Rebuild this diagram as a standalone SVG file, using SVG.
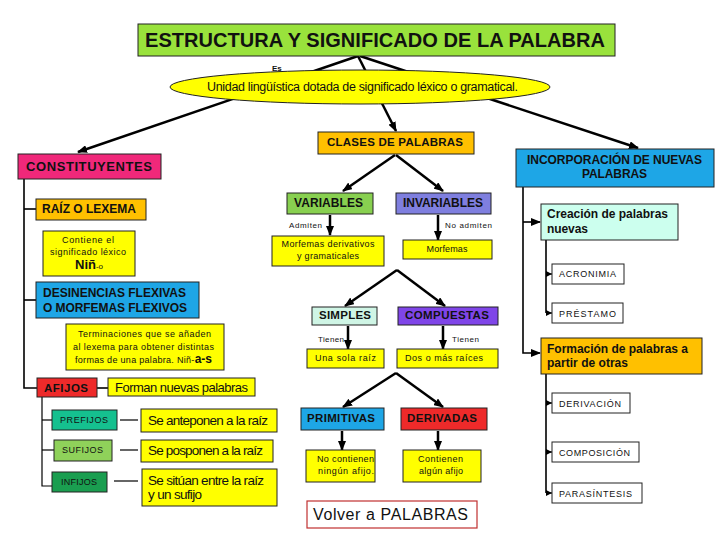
<svg xmlns="http://www.w3.org/2000/svg" width="720" height="540" viewBox="0 0 720 540">
<defs>
<marker id="ah" markerUnits="userSpaceOnUse" markerWidth="10" markerHeight="8" refX="9" refY="4" orient="auto"><path d="M0,0 L10,4 L0,8 z" fill="#000"/></marker>
<marker id="ahs" markerUnits="userSpaceOnUse" markerWidth="6" markerHeight="6" refX="6" refY="3" orient="auto"><path d="M0,0 L6,3 L0,6 z" fill="#000"/></marker>
<style>
text{font-family:"Liberation Sans",Arial,sans-serif;fill:#111}
.b{font-weight:bold}
.m{text-anchor:middle}
.box{stroke:#222;stroke-width:1}
.ln{stroke:#000;stroke-width:2.5;fill:none}
.tl{stroke:#000;stroke-width:1.6;fill:none}
.th{stroke:#000;stroke-width:1.2;fill:none}
.y{fill:#FFFF00}
.o{fill:#FFC000}
.bl{fill:#1EA6E6}
.rd{fill:#EE2A2A}
.w{fill:#FFFFFF}
.s9{font-size:9px}
.s8{font-size:8px}
</style>
</defs>
<rect x="0" y="0" width="720" height="540" fill="#FFFFFF"/>

<g id="connectors">
<line class="ln" x1="358" y1="56" x2="78" y2="152" marker-end="url(#ah)"/>
<line class="ln" x1="358" y1="56" x2="396" y2="131" marker-end="url(#ah)"/>
<line class="ln" x1="360" y1="56" x2="638" y2="148" marker-end="url(#ah)"/>
<line class="ln" x1="395" y1="155" x2="343" y2="191" marker-end="url(#ah)"/>
<line class="ln" x1="396" y1="155" x2="443" y2="191" marker-end="url(#ah)"/>
<line class="ln" x1="330" y1="215" x2="330" y2="235" marker-end="url(#ah)"/>
<line class="ln" x1="438" y1="215" x2="438" y2="240" marker-end="url(#ah)"/>
<line class="ln" x1="397" y1="270" x2="345" y2="306" marker-end="url(#ah)"/>
<line class="ln" x1="397" y1="270" x2="445" y2="306" marker-end="url(#ah)"/>
<line class="ln" x1="348" y1="326" x2="348" y2="349" marker-end="url(#ah)"/>
<line class="ln" x1="443" y1="326" x2="443" y2="349" marker-end="url(#ah)"/>
<line class="ln" x1="396" y1="373" x2="343" y2="407" marker-end="url(#ah)"/>
<line class="ln" x1="396" y1="373" x2="443" y2="407" marker-end="url(#ah)"/>
<line class="ln" x1="342" y1="431" x2="342" y2="450" marker-end="url(#ah)"/>
<line class="ln" x1="438" y1="431" x2="438" y2="450" marker-end="url(#ah)"/>
<polyline class="tl" points="24,179 24,388 37,388"/>
<line class="tl" x1="24" y1="209" x2="36" y2="209"/>
<line class="tl" x1="24" y1="300" x2="36" y2="300"/>
<line class="tl" x1="97" y1="388" x2="108" y2="388"/>
<polyline class="th" points="42,397 42,486 52,486"/>
<line class="th" x1="42" y1="420" x2="52" y2="420"/>
<line class="th" x1="42" y1="450" x2="54" y2="450"/>
<line class="th" x1="120" y1="420" x2="138" y2="420"/>
<line class="th" x1="120" y1="450" x2="138" y2="450"/>
<line class="th" x1="114" y1="481" x2="138" y2="481"/>
<polyline class="tl" points="523,187 523,353 540,353" marker-end="url(#ah)"/>
<line class="tl" x1="523" y1="222" x2="540" y2="222" marker-end="url(#ah)"/>
<line class="tl" x1="546" y1="240" x2="546" y2="313"/>
<line class="th" x1="546" y1="274" x2="552" y2="274" marker-end="url(#ahs)"/>
<line class="th" x1="546" y1="313" x2="552" y2="313" marker-end="url(#ahs)"/>
<line class="tl" x1="546" y1="374" x2="546" y2="493"/>
<line class="th" x1="546" y1="403" x2="552" y2="403" marker-end="url(#ahs)"/>
<line class="th" x1="546" y1="452" x2="552" y2="452" marker-end="url(#ahs)"/>
<line class="th" x1="546" y1="493" x2="552" y2="493" marker-end="url(#ahs)"/>
</g>

<g id="title">
<rect class="box" x="138" y="24" width="477" height="32" fill="#99E23C"/>
<text class="b m" x="375" y="47" font-size="20" textLength="460">ESTRUCTURA Y SIGNIFICADO DE LA PALABRA</text>
</g>
<g id="es-label"><text x="272" y="71" font-size="8" class="b">Es</text></g>
<g id="definicion">
<ellipse class="box y" cx="360" cy="87" rx="190" ry="17"/>
<text class="m" x="362.5" y="91" font-size="12.5" fill="#222" textLength="311">Unidad lingüística dotada de significado léxico o gramatical.</text>
</g>

<g id="clases">
<rect class="box o" x="318" y="132" width="156" height="22"/>
<text class="b m" x="395" y="146" font-size="11.5" textLength="136">CLASES DE PALABRAS</text>
</g>
<g id="variables">
<rect class="box" x="287" y="193" width="86" height="21" fill="#88D050"/>
<text class="b m" x="328.5" y="207" font-size="12" textLength="69">VARIABLES</text>
</g>
<g id="invariables">
<rect class="box" x="396" y="193" width="95" height="21" fill="#7F7FDF"/>
<text class="b m" x="443" y="207" font-size="12" textLength="80">INVARIABLES</text>
</g>
<g id="admiten"><text class="s8" x="289" y="228" textLength="33">Admiten</text></g>
<g id="no-admiten"><text class="s8" x="445" y="228" textLength="47">No admiten</text></g>
<g id="morfemas-derivativos">
<rect class="box y" x="272" y="236" width="112" height="30"/>
<text class="s9 m" x="328" y="247" textLength="93">Morfemas derivativos</text>
<text class="s9 m" x="328" y="259" textLength="62">y gramaticales</text>
</g>
<g id="morfemas">
<rect class="box y" x="403" y="240" width="89" height="19"/>
<text class="s9 m" x="447" y="252" textLength="41">Morfemas</text>
</g>

<g id="simples">
<rect class="box" x="312" y="307" width="65" height="18" fill="#CFF5E5"/>
<text class="b m" x="345" y="319" font-size="11.5" textLength="52">SIMPLES</text>
</g>
<g id="compuestas">
<rect class="box" x="398" y="307" width="100" height="18" fill="#7F45E8"/>
<text class="b m" x="447" y="319" font-size="11.5" textLength="84">COMPUESTAS</text>
</g>
<g id="tienen-1"><text class="s8" x="318" y="342" textLength="26">Tienen</text></g>
<g id="tienen-2"><text class="s8" x="452" y="342" textLength="27">Tienen</text></g>
<g id="una-sola-raiz">
<rect class="box y" x="307" y="349" width="77" height="19"/>
<text class="s9 m" x="345.5" y="361" textLength="61">Una sola raíz</text>
</g>
<g id="dos-o-mas-raices">
<rect class="box y" x="397" y="349" width="101" height="19"/>
<text class="s9 m" x="444" y="361" textLength="78">Dos o más raíces</text>
</g>

<g id="primitivas">
<rect class="box bl" x="301" y="408" width="83" height="22"/>
<text class="b m" x="341" y="422" font-size="11.5" textLength="68">PRIMITIVAS</text>
</g>
<g id="derivadas">
<rect class="box rd" x="401" y="408" width="86" height="22"/>
<text class="b m" x="442" y="422" font-size="11.5" textLength="70">DERIVADAS</text>
</g>
<g id="no-contienen">
<rect class="box y" x="306" y="450" width="69" height="32"/>
<text class="s9 m" x="345.5" y="462" textLength="57">No contienen</text>
<text class="s9 m" x="346" y="474" textLength="56">ningún afijo.</text>
</g>
<g id="contienen">
<rect class="box y" x="403" y="450" width="78" height="32"/>
<text class="s9 m" x="440.5" y="462" textLength="45">Contienen</text>
<text class="s9 m" x="441" y="474" textLength="44">algún afijo</text>
</g>
<g id="volver">
<rect x="307" y="501" width="170" height="27" fill="#FFFFFF" stroke="#C03030" stroke-width="1.2"/>
<text class="m" x="390.5" y="520" font-size="16" textLength="155">Volver a PALABRAS</text>
</g>

<g id="constituyentes">
<rect class="box" x="18" y="154" width="143" height="25" fill="#F0287A"/>
<text class="b" x="26" y="171" font-size="13" textLength="126">CONSTITUYENTES</text>
</g>
<g id="raiz">
<rect class="box o" x="36" y="199" width="110" height="21"/>
<text class="b" x="42" y="213" font-size="12" textLength="94">RAÍZ O LEXEMA</text>
</g>
<g id="contiene-el">
<rect class="box y" x="43" y="231" width="92" height="45"/>
<text class="s9 m" x="88" y="243" textLength="52">Contiene el</text>
<text class="s9 m" x="88" y="255" textLength="76">significado léxico</text>
<text x="75" y="269"><tspan class="b" font-size="13">Niñ</tspan><tspan font-size="8">-o</tspan></text>
</g>
<g id="desinencias">
<rect class="box bl" x="36" y="282" width="163" height="36"/>
<text class="b" x="43" y="297" font-size="12" textLength="143">DESINENCIAS FLEXIVAS</text>
<text class="b" x="43" y="312" font-size="12" textLength="144">O MORFEMAS FLEXIVOS</text>
</g>
<g id="terminaciones">
<rect class="box y" x="66" y="324" width="158" height="46"/>
<text class="s9 m" x="144.5" y="337" textLength="133">Terminaciones que se añaden</text>
<text class="s9 m" x="143.5" y="350" textLength="141">al lexema para obtener distintas</text>
<text x="75" y="363"><tspan font-size="9" letter-spacing="0.3">formas de una palabra. Niñ-</tspan><tspan class="b" font-size="12">a-s</tspan></text>
</g>
<g id="afijos">
<rect class="box rd" x="37" y="378" width="60" height="19"/>
<text class="b" x="44" y="392" font-size="11.5" textLength="44">AFIJOS</text>
</g>
<g id="forman">
<rect class="box y" x="108" y="378" width="147" height="18"/>
<text x="115" y="392" font-size="13" textLength="133">Forman nuevas palabras</text>
</g>
<g id="prefijos">
<rect class="box" x="52" y="410" width="65" height="20" fill="#15C08F"/>
<text class="s9" x="60" y="423" textLength="48">PREFIJOS</text>
</g>
<g id="sufijos">
<rect class="box" x="54" y="440" width="58" height="21" fill="#8FD15A"/>
<text class="s9" x="62" y="453" textLength="41">SUFIJOS</text>
</g>
<g id="infijos">
<rect class="box" x="52" y="472" width="55" height="20" fill="#1A9E50"/>
<text class="s9" x="61" y="485" textLength="36">INFIJOS</text>
</g>
<g id="anteponen">
<rect class="box y" x="141" y="409" width="136" height="23"/>
<text x="148" y="425" font-size="13.5" textLength="120">Se anteponen a la raíz</text>
</g>
<g id="posponen">
<rect class="box y" x="141" y="440" width="132" height="22"/>
<text x="148" y="455" font-size="13.5" textLength="115">Se posponen a la raíz</text>
</g>
<g id="situan">
<rect class="box y" x="142" y="469" width="135" height="37"/>
<text x="148" y="485" font-size="13.5" textLength="116">Se sitúan entre la raíz</text>
<text x="148" y="499" font-size="13.5" textLength="54">y un sufijo</text>
</g>

<g id="incorporacion">
<rect class="box bl" x="516" y="149" width="198" height="38"/>
<text class="b m" x="614.5" y="164" font-size="12" fill="#1a1a3a" textLength="175">INCORPORACIÓN DE NUEVAS</text>
<text class="b m" x="614.5" y="178" font-size="12" fill="#1a1a3a" textLength="65">PALABRAS</text>
</g>
<g id="creacion">
<rect class="box" x="541" y="204" width="137" height="36" fill="#CCFFEE"/>
<text class="b" x="547" y="218" font-size="12" textLength="121">Creación de palabras</text>
<text class="b" x="547" y="233" font-size="12" textLength="41">nuevas</text>
</g>
<g id="acronimia">
<rect class="box w" x="552" y="264" width="72" height="20"/>
<text class="s9" x="559" y="277" textLength="57">ACRONIMIA</text>
</g>
<g id="prestamo">
<rect class="box w" x="552" y="303" width="71" height="20"/>
<text class="s9" x="559" y="317" textLength="57">PRÉSTAMO</text>
</g>
<g id="formacion">
<rect class="box o" x="541" y="338" width="161" height="36"/>
<text class="b" x="547" y="353" font-size="12" textLength="141">Formación de palabras a</text>
<text class="b" x="547" y="367" font-size="12" textLength="81">partir de otras</text>
</g>
<g id="derivacion">
<rect class="box w" x="552" y="393" width="78" height="20"/>
<text class="s9" x="559" y="407" textLength="62">DERIVACIÓN</text>
</g>
<g id="composicion">
<rect class="box w" x="552" y="442" width="87" height="20"/>
<text class="s9" x="559" y="456" textLength="71">COMPOSICIÓN</text>
</g>
<g id="parasintesis">
<rect class="box w" x="552" y="483" width="90" height="20"/>
<text class="s9" x="559" y="497" textLength="73">PARASÍNTESIS</text>
</g>
</svg>
